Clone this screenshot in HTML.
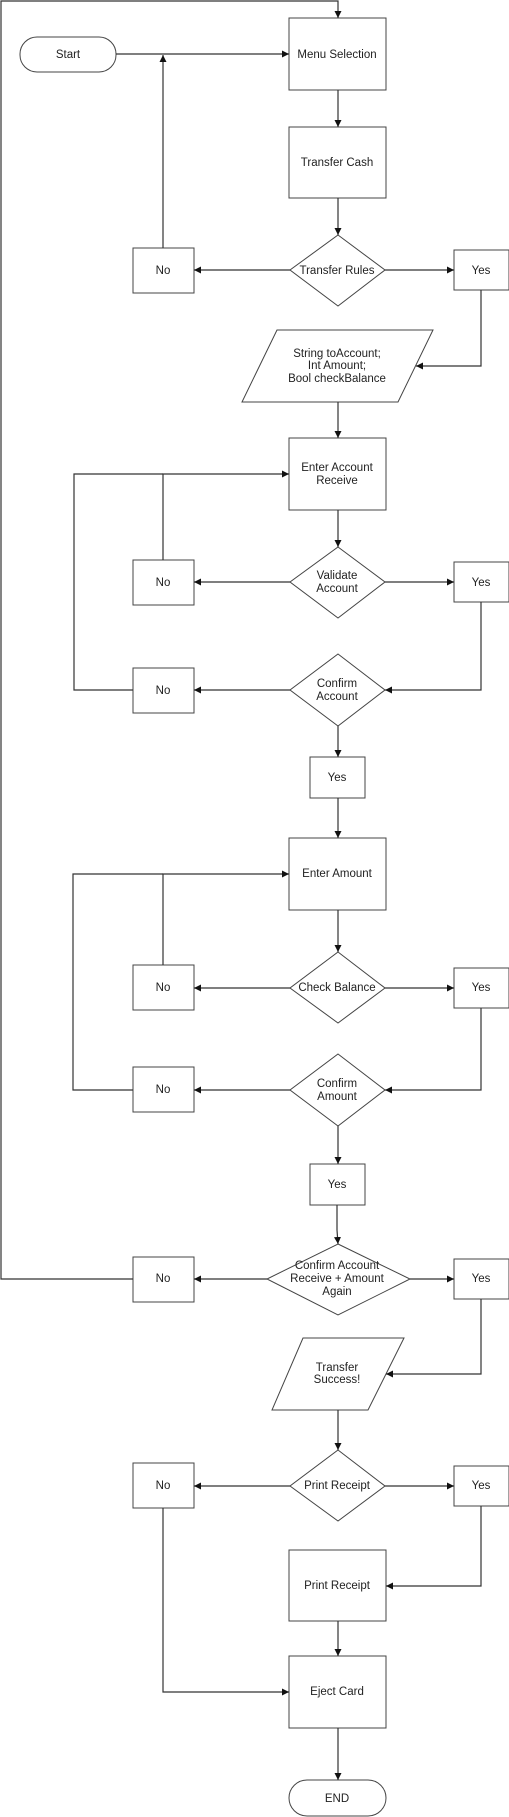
<!DOCTYPE html>
<html><head><meta charset="utf-8"><style>
html,body{margin:0;padding:0;background:#fff;}
svg{display:block;}
text{font-family:"Liberation Sans",Arial,sans-serif;font-size:11.5px;fill:#222;text-anchor:middle;}
</style></head><body>
<svg width="509" height="1817" viewBox="0 0 509 1817" xmlns="http://www.w3.org/2000/svg">
<defs>
<marker id="a" markerWidth="8" markerHeight="8" refX="7" refY="3.5" orient="auto" markerUnits="userSpaceOnUse">
<path d="M0,0 L7,3.5 L0,7 z" fill="#111"/>
</marker>
</defs>
<g fill="#fff" stroke="#444" stroke-width="1">
<rect x="20" y="37" width="96" height="35" rx="17"/>
<rect x="289" y="18" width="97" height="72"/>
<rect x="289" y="127" width="97" height="71"/>
<polygon points="338,235 385,270 338,306 290,270"/>
<rect x="133" y="248" width="61" height="45"/>
<rect x="454" y="250" width="55" height="40"/>
<polygon points="277,330 433,330 398,402 242,402"/>
<rect x="289" y="438" width="97" height="72"/>
<polygon points="338,547 385,582 338,618 290,582"/>
<rect x="133" y="560" width="61" height="45"/>
<rect x="454" y="562" width="55" height="40"/>
<polygon points="338,654 385,690 338,726 290,690"/>
<rect x="133" y="668" width="61" height="45"/>
<rect x="310" y="757" width="55" height="41"/>
<rect x="289" y="838" width="97" height="72"/>
<polygon points="338,952 385,988 338,1023 290,988"/>
<rect x="133" y="965" width="61" height="45"/>
<rect x="454" y="968" width="55" height="40"/>
<polygon points="338,1054 385,1090 338,1126 290,1090"/>
<rect x="133" y="1067" width="61" height="45"/>
<rect x="310" y="1164" width="55" height="41"/>
<polygon points="338,1244 410,1279 338,1315 267,1279"/>
<rect x="133" y="1257" width="61" height="45"/>
<rect x="454" y="1259" width="55" height="40"/>
<polygon points="303,1338 404,1338 368,1410 272,1410"/>
<polygon points="338,1450 385,1486 338,1521 290,1486"/>
<rect x="133" y="1463" width="61" height="45"/>
<rect x="454" y="1466" width="55" height="40"/>
<rect x="289" y="1550" width="97" height="71"/>
<rect x="289" y="1656" width="97" height="72"/>
<rect x="289" y="1780" width="97" height="36" rx="18"/>
</g>
<g fill="none" stroke="#333" stroke-width="1.2">
<polyline points="133,690 74,690 74,474 163,474"/>
<polyline points="133,1090 73,1090 73,874 163,874"/>
</g>
<g fill="none" stroke="#333" stroke-width="1.2" marker-end="url(#a)">
<polyline points="133,1279 1,1279 1,1 338,1 338,18"/>
<line x1="116" y1="54" x2="289" y2="54"/>
<line x1="163" y1="248" x2="163" y2="55"/>
<line x1="338" y1="90" x2="338" y2="127"/>
<line x1="338" y1="198" x2="338" y2="235"/>
<line x1="290" y1="270" x2="194" y2="270"/>
<line x1="385" y1="270" x2="454" y2="270"/>
<polyline points="481,290 481,366 416,366"/>
<line x1="338" y1="402" x2="338" y2="438"/>
<polyline points="163,560 163,474 289,474"/>
<line x1="338" y1="510" x2="338" y2="547"/>
<line x1="290" y1="582" x2="194" y2="582"/>
<line x1="385" y1="582" x2="454" y2="582"/>
<polyline points="481,602 481,690 385,690"/>
<line x1="290" y1="690" x2="194" y2="690"/>
<line x1="338" y1="726" x2="338" y2="757"/>
<line x1="338" y1="798" x2="338" y2="838"/>
<polyline points="163,965 163,874 289,874"/>
<line x1="338" y1="910" x2="338" y2="952"/>
<line x1="290" y1="988" x2="194" y2="988"/>
<line x1="385" y1="988" x2="454" y2="988"/>
<polyline points="481,1008 481,1090 385,1090"/>
<line x1="290" y1="1090" x2="194" y2="1090"/>
<line x1="338" y1="1126" x2="338" y2="1164"/>
<polyline points="337,1205 337,1230 338,1244"/>
<line x1="267" y1="1279" x2="194" y2="1279"/>
<line x1="410" y1="1279" x2="454" y2="1279"/>
<polyline points="481,1299 481,1374 386,1374"/>
<line x1="338" y1="1410" x2="338" y2="1450"/>
<line x1="290" y1="1486" x2="194" y2="1486"/>
<line x1="385" y1="1486" x2="454" y2="1486"/>
<polyline points="481,1506 481,1586 386,1586"/>
<polyline points="163,1508 163,1692 289,1692"/>
<line x1="338" y1="1621" x2="338" y2="1656"/>
<line x1="338" y1="1728" x2="338" y2="1780"/>
</g>
<text x="68" y="58">Start</text>
<text x="337" y="58">Menu Selection</text>
<text x="337" y="166">Transfer Cash</text>
<text x="163" y="274">No</text>
<text x="337" y="274">Transfer Rules</text>
<text x="481" y="274">Yes</text>
<text x="337" y="357">String toAccount;</text>
<text x="337" y="369">Int Amount;</text>
<text x="337" y="382">Bool checkBalance</text>
<text x="337" y="471">Enter Account</text>
<text x="337" y="484">Receive</text>
<text x="337" y="579">Validate</text>
<text x="337" y="592">Account</text>
<text x="163" y="586">No</text>
<text x="481" y="586">Yes</text>
<text x="337" y="687">Confirm</text>
<text x="337" y="700">Account</text>
<text x="163" y="694">No</text>
<text x="337" y="781">Yes</text>
<text x="337" y="877">Enter Amount</text>
<text x="337" y="991">Check Balance</text>
<text x="163" y="991">No</text>
<text x="481" y="991">Yes</text>
<text x="337" y="1087">Confirm</text>
<text x="337" y="1100">Amount</text>
<text x="163" y="1093">No</text>
<text x="337" y="1188">Yes</text>
<text x="337" y="1269">Confirm Account</text>
<text x="337" y="1282">Receive + Amount</text>
<text x="337" y="1295">Again</text>
<text x="163" y="1282">No</text>
<text x="481" y="1282">Yes</text>
<text x="337" y="1371">Transfer</text>
<text x="337" y="1383">Success!</text>
<text x="337" y="1489">Print Receipt</text>
<text x="163" y="1489">No</text>
<text x="481" y="1489">Yes</text>
<text x="337" y="1589">Print Receipt</text>
<text x="337" y="1695">Eject Card</text>
<text x="337" y="1802">END</text>
</svg>
</body></html>
